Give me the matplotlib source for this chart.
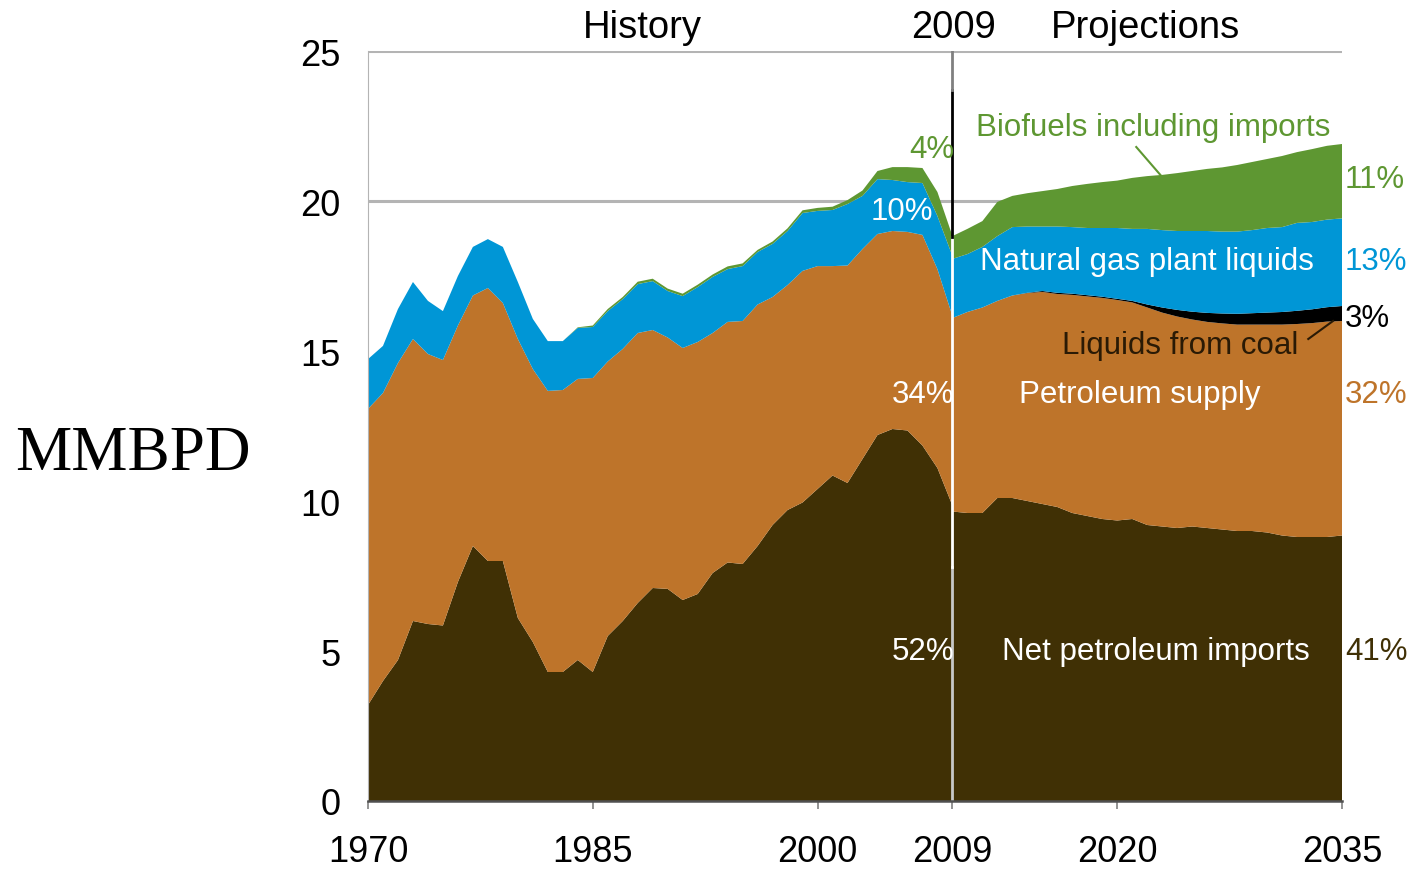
# -*- coding: utf-8 -*-
"""
Liquid fuels supply (MMBPD), history 1970-2009 and projections 2009-2035.
Stacked areas: net imports, petroleum supply, coal liquids, NGPL, biofuels.
"""
import matplotlib
matplotlib.use('Agg')
import matplotlib.pyplot as plt
import numpy as np

plt.rcParams['font.family'] = ['Liberation Sans', 'DejaVu Sans']

# ========== DATA ==========
years_hist = list(range(1970, 2010))
imports_hist = [3.2, 4.0, 4.7, 6.0, 5.9, 5.85, 7.3, 8.5, 8.0, 8.0,
                6.1, 5.3, 4.3, 4.3, 4.7, 4.3, 5.5, 6.0, 6.6, 7.1,
                7.07, 6.7, 6.9, 7.6, 7.95, 7.9, 8.5, 9.2, 9.7, 9.95,
                10.4, 10.85, 10.6, 11.4, 12.2, 12.4, 12.35, 11.85, 11.1, 9.85]
supply_hist = [9.87, 9.6, 9.9, 9.4, 9.0, 8.85, 8.55, 8.35, 9.1, 8.6,
               9.3, 9.1, 9.37, 9.4, 9.37, 9.8, 9.15, 9.07, 9.0, 8.6,
               8.38, 8.4, 8.4, 8.0, 8.02, 8.1, 8.05, 7.6, 7.5, 7.72,
               7.43, 6.98, 7.25, 7.0, 6.7, 6.6, 6.62, 7.02, 6.63, 6.32]
ngpl_hist = [1.66, 1.57, 1.8, 1.9, 1.77, 1.63, 1.65, 1.62, 1.63, 1.87,
             1.9, 1.67, 1.66, 1.63, 1.7, 1.7, 1.68, 1.66, 1.63, 1.63,
             1.55, 1.73, 1.83, 1.87, 1.76, 1.83, 1.75, 1.77, 1.8, 1.93,
             1.84, 1.87, 2.05, 1.77, 1.83, 1.7, 1.66, 1.73, 1.77, 2.0]
bio_hist = [0, 0, 0, 0, 0, 0, 0, 0, 0, 0,
            0, 0, 0, 0, 0.02, 0.05, 0.07, 0.07, 0.08, 0.08,
            0.08, 0.08, 0.08, 0.08, 0.09, 0.09, 0.07, 0.08, 0.09, 0.09,
            0.1, 0.11, 0.13, 0.18, 0.27, 0.43, 0.5, 0.5, 0.8, 0.67]

years_proj = list(range(2009, 2036))
imports_proj = [9.65, 9.6, 9.6, 10.1, 10.1, 10.0, 9.9, 9.8, 9.6, 9.5,
                9.4, 9.35, 9.4, 9.2, 9.15, 9.1, 9.15, 9.1, 9.05, 9.0,
                9.0, 8.95, 8.85, 8.8, 8.8, 8.8, 8.85]
supply_proj = [6.45, 6.7, 6.85, 6.57, 6.75, 6.93, 7.07, 7.1, 7.27, 7.32,
               7.37, 7.35, 7.22, 7.25, 7.13, 7.05, 6.9, 6.87, 6.87, 6.88,
               6.88, 6.93, 7.03, 7.1, 7.13, 7.18, 7.15]
coal_proj = [0, 0, 0, 0, 0, 0.01, 0.03, 0.04, 0.04, 0.04,
             0.04, 0.04, 0.05, 0.1, 0.17, 0.22, 0.26, 0.3, 0.33, 0.36,
             0.38, 0.4, 0.42, 0.44, 0.46, 0.48, 0.5]
ngpl_proj = [1.97, 1.93, 2.02, 2.16, 2.28, 2.21, 2.15, 2.21, 2.22, 2.24,
             2.29, 2.36, 2.4, 2.52, 2.58, 2.63, 2.69, 2.73, 2.73, 2.74,
             2.77, 2.82, 2.83, 2.93, 2.91, 2.92, 2.92]
bio_proj = [0.76, 0.84, 0.86, 1.14, 1.04, 1.11, 1.18, 1.25, 1.37, 1.47,
            1.53, 1.58, 1.7, 1.76, 1.84, 1.93, 2.0, 2.07, 2.14, 2.22,
            2.27, 2.3, 2.37, 2.36, 2.43, 2.46, 2.48]

x_ticks = [1970, 1985, 2000, 2009, 2020, 2035]

# цвета
C_IMP = '#403005'
C_SUP = '#be742a'
C_COAL = '#000000'
C_NGPL = '#0096d6'
C_BIO = '#5e9732'

# ========== FIGURE ==========
fig = plt.figure(figsize=(14.1, 8.7), dpi=100)
ax = fig.add_axes([368 / 1410, 1 - 802 / 870, 974 / 1410, 750 / 870])

# light grid lines at 20 and 25 (behind the areas)
for yv in (20, 25):
    ax.axhline(yv, color='#b4b4b4', lw=2.2, zorder=0)

ax.stackplot(years_hist, imports_hist, supply_hist, ngpl_hist, bio_hist,
             colors=[C_IMP, C_SUP, C_NGPL, C_BIO], lw=0, zorder=2)
ax.stackplot(years_proj, imports_proj, supply_proj, coal_proj, ngpl_proj, bio_proj,
             colors=[C_IMP, C_SUP, C_COAL, C_NGPL, C_BIO], lw=0, zorder=2)

# divider at 2009
ax.plot([2009, 2009], [0, 7.8], color='#c8c8c8', lw=2, zorder=3)
ax.plot([2009, 2009], [7.8, 18.8], color='white', lw=2, zorder=3)
ax.plot([2009, 2009], [18.8, 23.7], color='black', lw=2, zorder=3)
ax.plot([2009, 2009], [23.7, 25], color='#808080', lw=2, zorder=3)

ax.set_xlim(1970, 2035)
ax.set_ylim(0, 25)
ax.set_xticks(x_ticks)
ax.set_yticks(range(0, 26, 5))
ax.tick_params(axis='x', length=6, width=1.2, color='#808080', pad=18, labelsize=26)
ax.tick_params(axis='y', length=0, pad=20, labelsize=26)

for side in ('top', 'right'):
    ax.spines[side].set_visible(False)
ax.spines['left'].set_color('#b4b4b4')
ax.spines['bottom'].set_color('#505050')
ax.spines['bottom'].set_linewidth(1.8)
ax.spines['bottom'].set_zorder(4)

# header
hdr = dict(fontsize=27.5, ha='center', va='center', clip_on=False)
ax.text(1988.3, 25.8, 'History', **hdr)
ax.text(2009.05, 25.8, '2009', **hdr)
ax.text(2021.9, 25.8, 'Projections', **hdr)

# labels inside the plot
fs = 22.5
ax.text(2009.1, 21.73, '4%', color=C_BIO, fontsize=fs, ha='right', va='center')
ax.text(2007.7, 19.67, '10%', color='white', fontsize=fs, ha='right', va='center')
ax.text(2009.1, 13.57, '34%', color='white', fontsize=fs, ha='right', va='center')
ax.text(2009.1, 5.0, '52%', color='white', fontsize=fs, ha='right', va='center')

ax.text(2022.4, 22.47, 'Biofuels including imports', color=C_BIO, fontsize=fs,
        ha='center', va='center')
ax.plot([2021.27, 2023.0], [21.8, 20.8], color=C_BIO, lw=1.5, zorder=5)
ax.text(2022.0, 18.0, 'Natural gas plant liquids', color='white', fontsize=fs,
        ha='center', va='center')
ax.text(2024.2, 15.2, 'Liquids from coal', color='#2a1a05', fontsize=fs,
        ha='center', va='center')
ax.plot([2032.75, 2034.4], [15.4, 16.0], color='#2a1a05', lw=1.5, zorder=5)
ax.text(2021.5, 13.57, 'Petroleum supply', color='white', fontsize=fs,
        ha='center', va='center')
ax.text(2022.6, 5.0, 'Net petroleum imports', color='white', fontsize=fs,
        ha='center', va='center')

# shares in 2035
right = dict(fontsize=fs, ha='left', va='center', clip_on=False)
ax.text(2035.2, 20.73, '11%', color=C_BIO, **right)
ax.text(2035.2, 18.0, '13%', color=C_NGPL, **right)
ax.text(2035.2, 16.1, '3%', color='black', **right)
ax.text(2035.2, 13.57, '32%', color=C_SUP, **right)
ax.text(2035.2, 5.0, '41%', color=C_IMP, **right)

fig.text(15 / 1410, 1 - 455 / 870, 'MMBPD', family='Liberation Serif',
         fontsize=45.5, ha='left', va='center')

fig.savefig('out.png', dpi=100)
plt.close(fig)
